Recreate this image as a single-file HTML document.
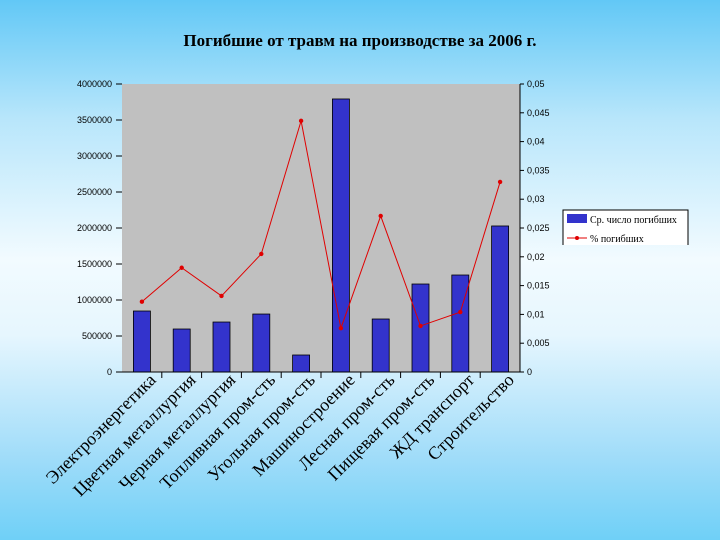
<!DOCTYPE html>
<html><head><meta charset="utf-8"><style>
html,body{margin:0;padding:0;width:720px;height:540px;overflow:hidden}
body{background:linear-gradient(180deg,#62c8f6 0%,#b8e6fb 22%,#f2fbff 48%,#e6f6fe 62%,#9fdcf9 85%,#6fd0f7 100%)}
svg{position:absolute;left:0;top:0}
</style></head><body>
<svg width="720" height="540" xmlns="http://www.w3.org/2000/svg">
<text x="360" y="46" text-anchor="middle" font-family="Liberation Serif, serif" font-weight="bold" font-size="17">Погибшие от травм на производстве за 2006 г.</text>
<rect x="122" y="84" width="398" height="288" fill="#c0c0c0"/>
<g id="g"></g>
<g>
<path d="M563 245 V210 H688 V245" fill="#fff" stroke="#000" stroke-width="1"/>
<rect x="567" y="214" width="20" height="9" fill="#3333cc"/>
<text x="590" y="223" font-family="Liberation Serif, serif" font-size="10">Ср. число погибших</text>
<line x1="567" y1="238" x2="587" y2="238" stroke="#e00000"/>
<circle cx="577" cy="238" r="2" fill="#e00000"/>
<text x="590" y="242" font-family="Liberation Serif, serif" font-size="10">% погибших</text>
</g>
</svg>
<script>
const categories=["Электроэнергетика","Цветная металлургия","Черная металлургия","Топливная пром-сть","Угольная пром-сть","Машиностроение","Лесная пром-сть","Пищевая пром-сть","ЖД транспорт","Строительство"];
const deaths=[847000,597000,694000,805000,236000,3792000,736000,1222000,1347000,2028000];
const percent=[0.0122,0.0181,0.0132,0.0205,0.0436,0.0076,0.0271,0.0080,0.0104,0.0330];
const leftTicks=["0","500000","1000000","1500000","2000000","2500000","3000000","3500000","4000000"];
const rightTicks=["0","0,005","0,01","0,015","0,02","0,025","0,03","0,035","0,04","0,045","0,05"];
const X0=122,X1=520,Y0=372,Y1=84;
const bw=(X1-X0)/categories.length;
const xc=i=>X0+bw*(i+0.5);
const yl=v=>Y0-(v/4000000)*(Y0-Y1);
const yr=v=>Y0-(v/0.05)*(Y0-Y1);
const NS="http://www.w3.org/2000/svg";
const g=document.getElementById('g');
function mk(t,a){const e=document.createElementNS(NS,t);for(const k in a)e.setAttribute(k,a[k]);g.appendChild(e);return e;}
leftTicks.forEach((t,i)=>{const y=yl(i*500000);
 const tx=mk('text',{x:112,y:y+3,'text-anchor':'end','font-family':'Liberation Sans, sans-serif','font-size':9});tx.textContent=t;
 
 
 mk('line',{x1:116,x2:122,y1:y,y2:y,stroke:'#000'});});
rightTicks.forEach((t,i)=>{const y=yr(i*0.005);
 const tx=mk('text',{x:527,y:y+3,'font-family':'Liberation Sans, sans-serif','font-size':9});tx.textContent=t;
 
 
 mk('line',{x1:520,x2:524,y1:y,y2:y,stroke:'#000'});});
deaths.forEach((v,i)=>{const r=mk('rect',{x:xc(i)-8.5,y:yl(v),width:17,height:Y0-yl(v),fill:'#3333cc',stroke:'#000','stroke-width':0.8});
 
 });
mk('line',{x1:116,x2:524,y1:Y0,y2:Y0,stroke:'#000'});
mk('line',{x1:X1,x2:X1,y1:Y1,y2:Y0,stroke:'#000'});
for(let i=1;i<categories.length;i++)mk('line',{x1:X0+bw*i,x2:X0+bw*i,y1:Y0,y2:Y0+6,stroke:'#000'});
const pl=mk('polyline',{points:percent.map((v,i)=>xc(i)+','+yr(v)).join(' '),fill:'none',stroke:'#e00000','stroke-width':1});


percent.forEach((v,i)=>{const c=mk('circle',{cx:xc(i),cy:yr(v),r:2.2,fill:'#e00000'});
 
 });
categories.forEach((c,i)=>{const x=xc(i)+15,y=381;
 const t=mk('text',{x:x,y:y,'text-anchor':'end','font-family':'Liberation Serif, serif','font-size':18,transform:`rotate(-45 ${x} ${y})`});
 t.textContent=c;
 
 });
</script>
</body></html>
